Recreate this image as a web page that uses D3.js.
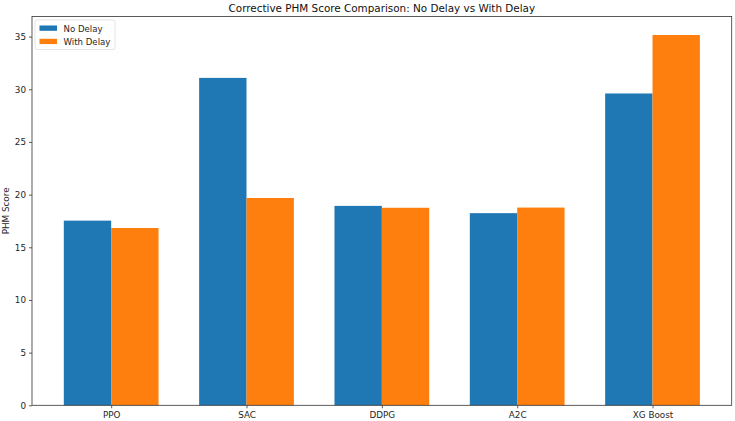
<!DOCTYPE html>
<html>
<head>
<meta charset="utf-8">
<script src="https://cdn.jsdelivr.net/npm/d3@7"></script>
<style>
  body { margin: 0; background: #fff; }
  svg { display: block; font-family: "DejaVu Sans", sans-serif; }
</style>
</head>
<body>
<div id="chart"></div>
<script>
// values
const models = ['PPO', 'SAC', 'DDPG', 'A2C', 'XG Boost'];
const noDelay = [17.53, 31.08, 18.93, 18.24, 29.6];
const withDelay = [16.83, 19.68, 18.75, 18.77, 35.15];
const yTicks = [0, 5, 10, 15, 20, 25, 30, 35];
const seriesNames = ['No Delay', 'With Delay'];
const colors = ['#1f77b4', '#ff7f0e'];

const width = 735, height = 421;
const margin = { left: 32, right: 3.3, top: 16.5, bottom: 15.7 };
const innerW = width - margin.left - margin.right;
const innerH = height - margin.top - margin.bottom;

const svg = d3.select('#chart').append('svg')
    .attr('width', width)
    .attr('height', height);

const g = svg.append('g')
    .attr('transform', 'translate(' + margin.left + ',' + margin.top + ')');

// matplotlib style: bar width 0.35, 5% margins
const barW = 0.35;
const lo = -barW, hi = models.length - 1 + barW;
const pad = (hi - lo) * 0.05;
const x = d3.scaleLinear().domain([lo - pad, hi + pad]).range([0, innerW]);

const ymax = d3.max(noDelay.concat(withDelay)) * 1.05;
const y = d3.scaleLinear().domain([0, ymax]).range([innerH, 0]);

const series = [noDelay, withDelay];
series.forEach(function(vals, si) {
    g.selectAll('.bar' + si)
        .data(vals)
        .enter().append('rect')
        .attr('x', function(d, i) { return x(si === 0 ? i - barW : i); })
        .attr('width', x(barW) - x(0))
        .attr('y', function(d) { return y(d); })
        .attr('height', function(d) { return innerH - y(d); })
        .attr('fill', colors[si]);
});

// axes
const xAxis = d3.axisBottom(x)
    .tickValues(d3.range(models.length))
    .tickFormat(function(d) { return models[d]; })
    .tickSize(3).tickPadding(3);
const yAxis = d3.axisLeft(y)
    .tickValues(yTicks)
    .tickSize(3).tickPadding(3);

const gx = g.append('g')
    .attr('transform', 'translate(0,' + innerH + ')')
    .call(xAxis);
const gy = g.append('g').call(yAxis);

[gx, gy].forEach(function(a) {
    a.select('.domain').remove();
    a.selectAll('text').attr('font-size', 8.8).attr('fill', '#262626')
        .attr('font-family', '"DejaVu Sans", sans-serif');
    a.selectAll('line').attr('stroke', '#333').attr('stroke-width', 0.8);
});

// frame
g.append('rect')
    .attr('width', innerW).attr('height', innerH)
    .attr('fill', 'none').attr('stroke', '#333').attr('stroke-width', 0.8);

// title
svg.append('text')
    .attr('x', margin.left + innerW / 2)
    .attr('y', 11.5)
    .attr('text-anchor', 'middle')
    .attr('font-size', 10.4)
    .attr('fill', '#111')
    .text('Corrective PHM Score Comparison: No Delay vs With Delay');

// y label
svg.append('text')
    .attr('transform', 'translate(9,' + (margin.top + innerH / 2) + ') rotate(-90)')
    .attr('text-anchor', 'middle')
    .attr('font-size', 8.8)
    .attr('fill', '#262626')
    .text('PHM Score');

// legend
const leg = g.append('g').attr('transform', 'translate(3,3.5)');
leg.append('rect')
    .attr('width', 80).attr('height', 29.5).attr('rx', 2)
    .attr('fill', '#fff').attr('fill-opacity', 0.8)
    .attr('stroke', '#ddd').attr('stroke-width', 0.8);
seriesNames.forEach(function(name, i) {
    const row = leg.append('g').attr('transform', 'translate(4.5,' + (5.5 + i * 13.3) + ')');
    row.append('rect').attr('width', 17.5).attr('height', 5.3).attr('fill', colors[i]);
    row.append('text')
        .attr('x', 24).attr('y', 6)
        .attr('font-size', 8.6).attr('fill', '#262626')
        .text(name);
});
</script>
</body>
</html>
